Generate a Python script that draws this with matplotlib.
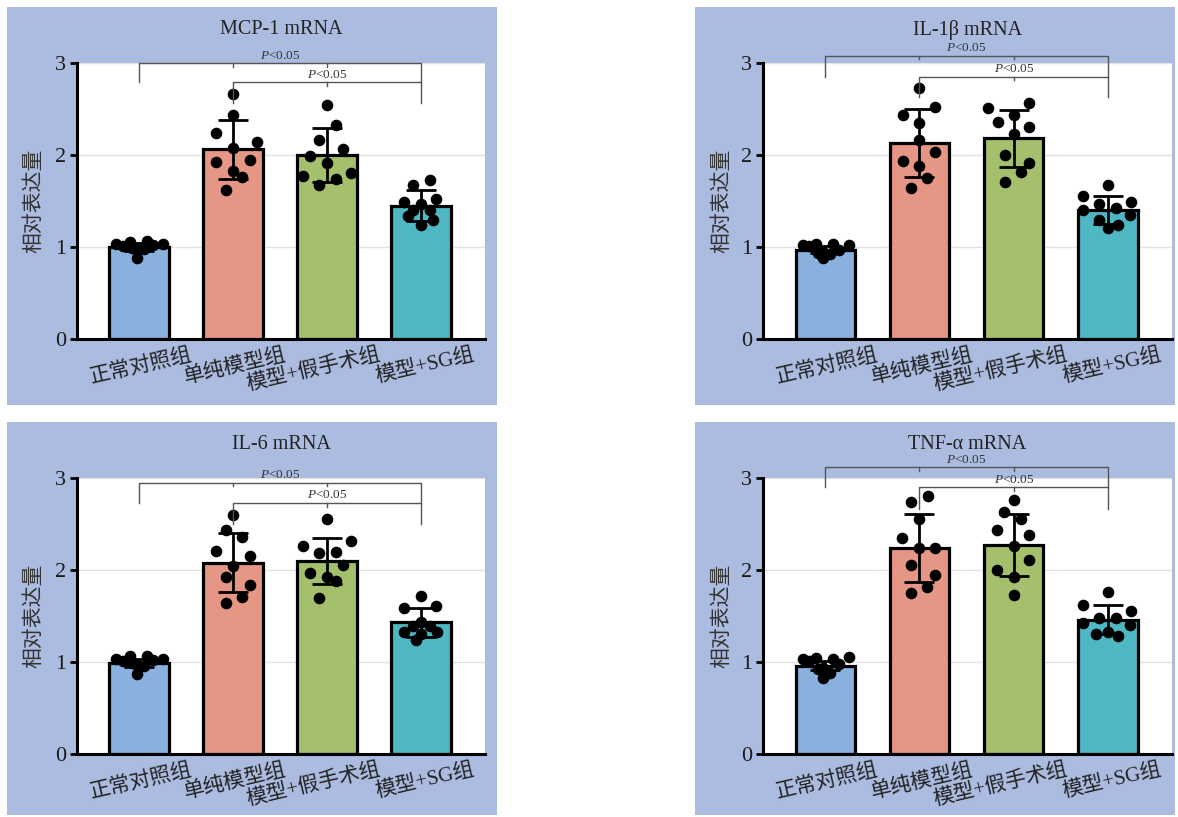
import matplotlib
matplotlib.use('Agg')
import matplotlib.pyplot as plt
import matplotlib.transforms as mtransforms
from matplotlib.patches import Rectangle
import numpy as np

plt.rcParams['mathtext.fontset'] = 'custom'
plt.rcParams['mathtext.it'] = 'Liberation Serif:italic'
plt.rcParams['mathtext.rm'] = 'Liberation Serif'

# ---------------- data ----------------
categories = ['正常对照组', '单纯模型组', '模型+假手术组', '模型+SG组']
titles = ['MCP-1 mRNA', 'IL-1β mRNA', 'IL-6 mRNA', 'TNF-α mRNA']
y_label = '相对表达量'
y_ticks = [0, 1, 2, 3]
p_text = r'$\it{P}$<0.05'

mcp1_mean = [1.00, 2.06, 2.00, 1.45]
mcp1_sd = [0.04, 0.32, 0.29, 0.17]
mcp1_points = [
    [1.03, 1.05, 1.06, 1.03, 1.01, 1.02, 0.97, 0.99, 0.98, 0.88],
    [2.66, 2.44, 2.24, 2.14, 2.08, 1.92, 1.95, 1.83, 1.76, 1.62],
    [2.54, 2.33, 2.16, 2.07, 1.99, 1.91, 1.77, 1.80, 1.74, 1.67],
    [1.67, 1.73, 1.49, 1.52, 1.47, 1.40, 1.40, 1.34, 1.29, 1.24],
]
mcp1_jitter = [
    [-0.24, -0.10, 0.08, 0.25, -0.17, 0.15, -0.02, -0.08, 0.05, -0.02],
    [0.00, 0.00, -0.18, 0.26, 0.00, -0.18, 0.18, 0.00, 0.09, -0.08],
    [0.00, 0.09, -0.09, 0.17, -0.18, 0.00, -0.26, 0.25, 0.09, -0.09],
    [-0.09, 0.09, -0.18, 0.16, 0.00, -0.09, 0.09, -0.14, 0.13, 0.00],
]

il1b_mean = [0.97, 2.13, 2.18, 1.40]
il1b_sd = [0.04, 0.37, 0.31, 0.15]
il1b_points = [
    [1.02, 1.03, 1.03, 1.02, 1.01, 0.97, 0.95, 0.94, 0.92, 0.88],
    [2.73, 2.52, 2.44, 2.35, 2.16, 2.03, 1.93, 1.88, 1.75, 1.64],
    [2.51, 2.56, 2.36, 2.44, 2.30, 2.23, 2.00, 1.91, 1.81, 1.71],
    [1.67, 1.55, 1.49, 1.47, 1.42, 1.40, 1.35, 1.29, 1.24, 1.21],
]
il1b_jitter = [
    [-0.24, -0.10, 0.08, 0.25, -0.17, 0.15, -0.02, -0.08, 0.05, -0.02],
    [0.00, 0.17, -0.17, 0.00, 0.00, 0.17, -0.17, 0.00, 0.08, -0.09],
    [-0.27, 0.16, -0.17, 0.00, 0.16, 0.00, -0.09, 0.16, 0.08, -0.09],
    [0.00, -0.26, 0.25, -0.09, 0.09, -0.26, 0.23, -0.09, 0.11, 0.00],
]

il6_mean = [0.99, 2.08, 2.10, 1.43]
il6_sd = [0.04, 0.32, 0.25, 0.16]
il6_points = [
    [1.03, 1.06, 1.06, 1.03, 1.01, 1.02, 0.97, 0.99, 0.96, 0.87],
    [2.60, 2.43, 2.36, 2.21, 2.15, 2.04, 1.92, 1.84, 1.71, 1.64],
    [2.55, 2.26, 2.31, 2.18, 2.20, 2.05, 1.97, 1.92, 1.88, 1.70],
    [1.72, 1.59, 1.61, 1.44, 1.39, 1.39, 1.33, 1.33, 1.30, 1.24],
]
il6_jitter = [
    [-0.24, -0.10, 0.08, 0.25, -0.17, 0.15, -0.02, -0.08, 0.05, -0.02],
    [0.00, -0.08, 0.10, -0.18, 0.18, 0.00, -0.08, 0.18, 0.10, -0.08],
    [0.00, -0.26, 0.25, -0.09, 0.09, 0.17, -0.18, 0.00, 0.09, -0.09],
    [0.00, -0.18, 0.16, 0.00, -0.09, 0.09, -0.18, 0.17, 0.00, -0.05],
]

tnfa_mean = [0.96, 2.24, 2.27, 1.46]
tnfa_sd = [0.05, 0.37, 0.34, 0.16]
tnfa_points = [
    [1.03, 1.04, 1.03, 1.05, 1.01, 0.98, 0.94, 0.92, 0.88, 0.83],
    [2.80, 2.74, 2.55, 2.35, 2.24, 2.24, 2.05, 1.95, 1.82, 1.75],
    [2.76, 2.63, 2.55, 2.44, 2.38, 2.26, 2.11, 2.00, 1.92, 1.73],
    [1.76, 1.62, 1.55, 1.48, 1.48, 1.42, 1.40, 1.33, 1.30, 1.28],
]
tnfa_jitter = [
    [-0.24, -0.10, 0.08, 0.25, -0.17, 0.15, -0.02, -0.08, 0.05, -0.02],
    [0.09, -0.09, 0.00, -0.18, 0.00, 0.17, -0.09, 0.17, 0.08, -0.09],
    [0.00, -0.10, 0.08, -0.18, 0.16, 0.00, 0.16, -0.18, 0.00, 0.00],
    [0.00, -0.26, 0.25, -0.09, 0.09, -0.26, 0.23, 0.00, -0.13, 0.11],
]

# ---------------- style ----------------
bar_colors = ['#8AB0DE', '#E59685', '#A4C06C', '#4FB6C4']
panel_bg = '#ABBCE0'
serif = ['Liberation Serif', 'Noto Sans CJK SC']
cjk = ['Noto Sans CJK SC', 'Liberation Serif']

W, H = 1178, 817
fig = plt.figure(figsize=(W / 100, H / 100), dpi=100)
fig.patch.set_facecolor('white')

# panel: (bg rect px x0, y0, x1, y1), (axes px left, top, right, bottom), bracket levels
panels = [
    dict(bg=(7, 7, 497, 405), ax=(77, 63, 485, 339),
         b1=(3.00, 2.79), b2=(2.79, 2.56),
         data=(mcp1_mean, mcp1_sd, mcp1_points, mcp1_jitter), title=titles[0]),
    dict(bg=(695, 7, 1175, 405), ax=(763, 63, 1172, 339),
         b1=(3.08, 2.85), b2=(2.85, 2.63),
         data=(il1b_mean, il1b_sd, il1b_points, il1b_jitter), title=titles[1]),
    dict(bg=(7, 422, 497, 815), ax=(77, 478, 485, 754),
         b1=(2.95, 2.73), b2=(2.73, 2.50),
         data=(il6_mean, il6_sd, il6_points, il6_jitter), title=titles[2]),
    dict(bg=(695, 422, 1175, 815), ax=(763, 478, 1172, 754),
         b1=(3.12, 2.90), b2=(2.90, 2.66),
         data=(tnfa_mean, tnfa_sd, tnfa_points, tnfa_jitter), title=titles[3]),
]

for p in panels:
    x0, y0, x1, y1 = p['bg']
    fig.patches.append(Rectangle((x0 / W, 1 - y1 / H), (x1 - x0) / W, (y1 - y0) / H,
                                 transform=fig.transFigure, facecolor=panel_bg,
                                 edgecolor='none', zorder=-10))
    l, t, r, b = p['ax']
    ax = fig.add_axes([l / W, 1 - b / H, (r - l) / W, (b - t) / H])
    ax.set_facecolor('white')
    mean, sd, pts, jit = p['data']
    xs = np.arange(len(categories))

    ax.bar(xs, mean, width=0.63, color=bar_colors, edgecolor='black',
           linewidth=2.3, zorder=2)
    ax.errorbar(xs, mean, yerr=sd, fmt='none', ecolor='black', elinewidth=2.0,
                capsize=11, capthick=2.0, zorder=3)
    for i in range(len(categories)):
        ax.scatter(xs[i] + np.array(jit[i]), pts[i], s=70, color='black',
                   zorder=4, linewidths=0)

    ax.set_xlim(-0.66, 3.68)
    ax.set_ylim(0, 3)
    ax.set_yticks(y_ticks)
    ax.set_yticklabels([str(v) for v in y_ticks], fontfamily=serif, fontsize=16,
                       color='#1a1a1a')
    ax.yaxis.grid(True, color='#E2E2E2', linewidth=1.0, zorder=0)
    ax.set_axisbelow(True)
    for s in ['top', 'right']:
        ax.spines[s].set_visible(False)
    for s in ['left', 'bottom']:
        ax.spines[s].set_linewidth(2.2)
        ax.spines[s].set_zorder(5)
    ax.tick_params(axis='y', direction='out', length=5, width=2, pad=3)
    ax.set_xticks(xs)
    ax.set_xticklabels([])
    ax.tick_params(axis='x', direction='in', length=5, width=1.5, color='#1a1a1a')

    # x category labels (rotated, right end offset to the right of the tick)
    off = mtransforms.ScaledTranslation(0.51, -0.06, fig.dpi_scale_trans)
    for i, c in enumerate(categories):
        ax.text(xs[i], 0, c, transform=ax.transData + off, rotation=13,
                rotation_mode='anchor', ha='right', va='top', fontsize=15,
                fontfamily=serif, color='#222222', clip_on=False)

    ax.text(-(l - (p['bg'][0] + 26)) / (r - l), 0.5, y_label, transform=ax.transAxes,
            rotation=90, ha='center', va='center', fontsize=15,
            fontfamily=cjk, color='#333333')
    ax.set_title(p['title'], fontfamily=serif, fontsize=14.5, pad=0,
                 y=1 + (t - (p['bg'][1] + 23)) / (b - t), va='center', color='#222222')

    # significance brackets
    gc = '#555555'
    by1, bd1 = p['b1']
    by2, bd2 = p['b2']
    ax.plot([0, 0, 3, 3], [bd1, by1, by1, bd1], color=gc, lw=1.0, clip_on=False, zorder=6)
    ax.plot([1, 1, 3, 3], [bd2, by2, by2, bd2], color=gc, lw=1.0, clip_on=False, zorder=6)
    for xm in [1, 2]:
        ax.plot([xm, xm], [by1, by1 - 0.04], color=gc, lw=1.0, clip_on=False, zorder=6)
    ax.plot([2, 2], [by2, by2 - 0.04], color=gc, lw=1.0, clip_on=False, zorder=6)
    ax.text(1.5, by1 + 0.015, p_text, ha='center', va='bottom',
            fontsize=9.5, fontfamily=serif, color='#333333', clip_on=False, zorder=6)
    ax.text(2.0, by2 + 0.015, p_text, ha='center', va='bottom',
            fontsize=9.5, fontfamily=serif, color='#333333', clip_on=False, zorder=6)

fig.savefig('out.png', dpi=100, facecolor='white')
